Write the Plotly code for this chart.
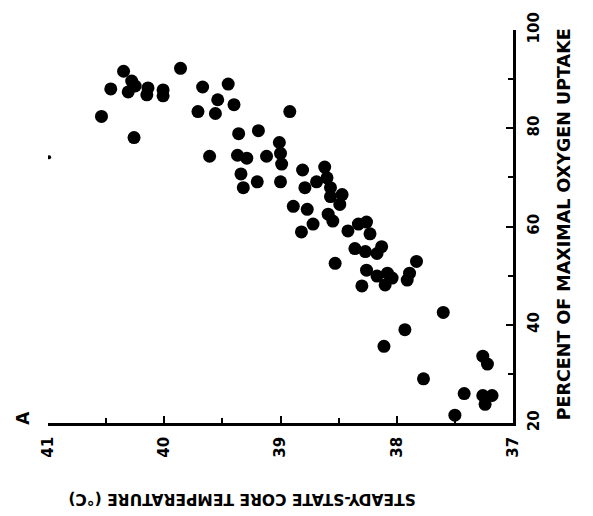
import plotly.graph_objects as go

# Steady-state core temperature (deg C) vs percent of maximal oxygen uptake
core_temp = [
    40.35, 39.86, 40.28, 40.25, 40.31, 40.46, 40.14, 40.15, 40.01, 40.01,
    39.67, 39.45, 39.54, 39.40, 39.71, 39.56, 38.92, 40.54, 40.26, 39.36,
    39.19, 39.01, 39.61, 39.37, 39.29, 39.12, 39.00, 38.99, 39.34, 39.20,
    39.00, 39.32, 38.81, 38.62, 38.69, 38.60, 38.79, 38.57, 38.57, 38.47,
    38.49, 38.89, 38.77, 38.72, 38.59, 38.55, 38.82, 38.42, 38.33, 38.26,
    38.23, 38.36, 38.27, 38.17, 38.13, 38.53, 37.83, 38.26, 38.17, 38.08,
    38.04, 38.10, 38.30, 37.91, 37.89, 37.60, 37.93, 38.11, 37.26, 37.22,
    37.77, 37.42, 37.26, 37.18, 37.24, 37.50,
]
pct_vo2max = [
    91.6, 92.2, 89.6, 88.6, 87.4, 88.0, 88.2, 86.8, 87.8, 86.6,
    88.4, 89.0, 85.8, 84.8, 83.4, 83.0, 83.4, 82.4, 78.1, 78.9,
    79.5, 77.1, 74.3, 74.5, 73.9, 74.3, 74.9, 72.7, 70.7, 69.1,
    69.1, 67.9, 71.5, 72.1, 69.1, 69.9, 67.9, 67.9, 66.1, 66.5,
    64.5, 64.1, 63.5, 60.5, 62.5, 61.1, 58.9, 59.1, 60.5, 60.9,
    58.5, 55.5, 54.9, 54.5, 55.9, 52.5, 52.9, 51.1, 49.9, 50.5,
    49.5, 48.1, 47.9, 49.1, 50.5, 42.5, 39.0, 35.6, 33.6, 32.0,
    29.0, 26.0, 25.6, 25.6, 23.8, 21.6,
]

# small isolated mark near the left edge
speck_temp = [40.99]
speck_pct = [74.1]

temp_ticks = [41, 40, 39, 38, 37]
pct_ticks = [20, 40, 60, 80, 100]

x_title = "STEADY-STATE CORE TEMPERATURE (°C)"
y_title = "PERCENT OF MAXIMAL OXYGEN UPTAKE"
panel_label = "A"

FONT = "DejaVu Sans"

fig = go.Figure()
fig.add_trace(go.Scatter(
    x=core_temp, y=pct_vo2max, mode="markers",
    marker=dict(color="black", size=13, line=dict(width=0)),
    hoverinfo="x+y", showlegend=False,
))
fig.add_trace(go.Scatter(
    x=speck_temp, y=speck_pct, mode="markers",
    marker=dict(color="black", size=4, line=dict(width=0)),
    hoverinfo="skip", showlegend=False,
))

axis_common = dict(
    showgrid=False, zeroline=False, showline=True,
    linecolor="black", linewidth=2.5,
    ticks="inside", ticklen=7, tickwidth=2, tickcolor="black",
    tickangle=-90, ticklabelstandoff=5,
    tickfont=dict(family=FONT, size=15, color="black", weight="bold"),
    mirror=False,
)

fig.update_xaxes(
    range=[41, 37], tickvals=temp_ticks, ticktext=[str(v) for v in temp_ticks],
    minor=dict(dtick=0.5, ticks="inside", ticklen=5, tickwidth=2, tickcolor="black"),
    **axis_common,
)
fig.update_yaxes(
    range=[20, 100], side="right", tickvals=pct_ticks,
    ticktext=[str(v) for v in pct_ticks],
    minor=dict(dtick=10, ticks="inside", ticklen=5, tickwidth=2, tickcolor="black"),
    **axis_common,
)

fig.add_annotation(
    text=y_title, xref="paper", yref="paper", x=1.135, y=0.505,
    showarrow=False, textangle=-90,
    font=dict(family=FONT, size=17.5, color="black", weight="bold"),
)
fig.add_annotation(
    text=x_title, xref="paper", yref="paper", x=0.417, y=-0.22,
    showarrow=False, textangle=180,
    font=dict(family=FONT, size=15.5, color="black", weight="bold"),
)
fig.add_annotation(
    text=panel_label, xref="paper", yref="paper", x=-0.08, y=-0.01,
    showarrow=False, textangle=-90,
    font=dict(family=FONT, size=17, color="black", weight="bold"),
)

fig.update_layout(
    width=593, height=516,
    margin=dict(l=48, r=80, t=22, b=93),
    paper_bgcolor="white", plot_bgcolor="white",
)

fig.write_html("out.html")
